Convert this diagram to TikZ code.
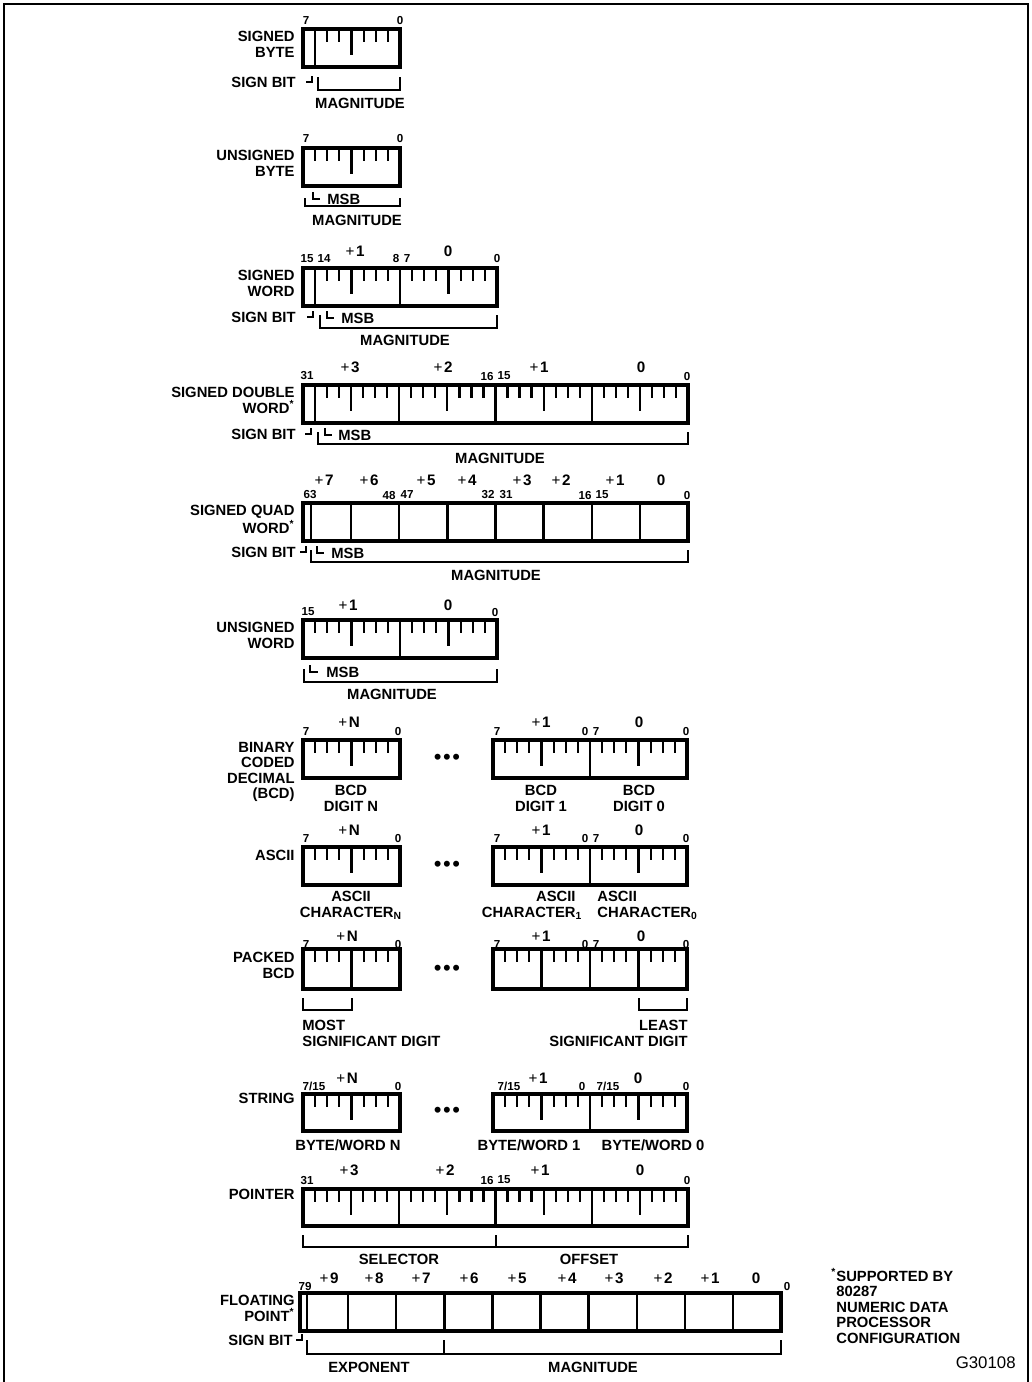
\documentclass[tikz,border=0pt]{standalone}
\usepackage{fontspec}
\setmainfont{Liberation Sans}
\usepackage{tikz}

\tikzset{
  regbox/.style={line width=1.9pt},
  divider/.style={line width=1.2pt},
  bittick/.style={line width=1.1pt},
  brkt/.style={line width=1pt},
  txt/.style={font=\fontsize{7.4}{7.7}\selectfont\bfseries, inner sep=0pt},
  lbl/.style={txt, align=right, anchor=north east},
  bitnum/.style={font=\fontsize{5.8}{6.5}\selectfont\bfseries, inner sep=0pt},
  bytenum/.style={font=\fontsize{7.6}{8}\selectfont\bfseries, inner sep=0pt},
  bullets/.style={font=\fontsize{11}{11}\selectfont, inner sep=0pt},
}

% bit ticks hanging from the top edge: x, top, byte width, bytes
\newcommand{\byteticks}[4]{%
  \foreach \k in {1,...,#4}{%
    \foreach \i in {1,...,7}{%
      \draw[bittick] ({#1+(\k-1)*#3+\i*#3/8},#2) -- ++(0,{\i==4 ? 26 : 13});
    }%
  }%
}
\newcommand{\fn}{\textsuperscript{*}}
\newcommand{\pls}{\textmd{+}\kern0.8pt}

\begin{document}
\begin{tikzpicture}[x=0.5pt,y=-0.5pt]
    \useasboundingbox (0,0) rectangle (1032,1382);
    \draw[line width=1.2pt] (4,1382) -- (4,4) -- (1028,4) -- (1028,1382);

    % signed byte
    \draw[regbox] (303,29) rectangle (400,67);
    \byteticks{303}{29}{97}{1}
    \draw[divider] (315,29) -- (315,67);
    \node[bitnum] (sb7) at (306,21) {7};
    \node[bitnum] (sb0) at (400,21) {0};
    \node[lbl] (sbname) at (295,31) {SIGNED\\BYTE};
    \node[txt, anchor=east] (sbsign) at (296,82) {SIGN BIT};
    \draw[brkt] (306,82) -- (312,82) -- (312,76);
    \draw[brkt] (318,77) -- (318,90) -- (400,90) -- (400,77);
    \node[txt] (sbmag) at (360,103) {MAGNITUDE};

    % unsigned byte
    \draw[regbox] (303,148) rectangle (400,186);
    \byteticks{303}{148}{97}{1}
    \node[bitnum] (ub7) at (306,139) {7};
    \node[bitnum] (ub0) at (400,139) {0};
    \node[lbl] (ubname) at (295,150) {UNSIGNED\\BYTE};
    \draw[brkt] (313,192) -- (313,199) -- (320,199);
    \node[txt, anchor=west] (ubmsb) at (327,199) {MSB};
    \draw[brkt] (305,198) -- (305,206) -- (400,206) -- (400,198);
    \node[txt] (ubmag) at (357,220) {MAGNITUDE};

    % signed word
    \draw[regbox] (303,268) rectangle (497,306);
    \byteticks{303}{268}{97}{2}
    \draw[divider] (315,268) -- (315,306);
    \draw[divider] (400,268) -- (400,306);
    \node[bitnum] (sw15) at (307,259) {15};
    \node[bitnum] (sw14) at (324,259) {14};
    \node[bytenum] (swb1) at (355,251) {\pls1};
    \node[bitnum] (sw8) at (396,259) {8};
    \node[bitnum] (sw7) at (407,259) {7};
    \node[bytenum] (swb0) at (448,251) {0};
    \node[bitnum] (sw0) at (497,259) {0};
    \node[lbl] (swname) at (295,270) {SIGNED\\WORD};
    \node[txt, anchor=east] (swsign) at (296,317) {SIGN BIT};
    \draw[brkt] (307,317) -- (313,317) -- (313,311);
    \draw[brkt] (320,315) -- (320,328) -- (497,328) -- (497,315);
    \draw[brkt] (327,311) -- (327,318) -- (334,318);
    \node[txt, anchor=west] (swmsb) at (341,318) {MSB};
    \node[txt] (swmag) at (405,340) {MAGNITUDE};

    % signed double word
    \draw[regbox] (303,385) rectangle (688,423);
    \byteticks{303}{385}{96.25}{4}
    \draw[divider] (315,385) -- (315,423);
    \draw[divider] (399.25,385) -- (399.25,423);
    \draw[divider] (495.5,385) -- (495.5,423);
    \draw[divider] (591.75,385) -- (591.75,423);
    \node[bitnum] (dw31) at (307,376) {31};
    \node[bytenum] (dwb3) at (350,367) {\pls3};
    \node[bytenum] (dwb2) at (443,367) {\pls2};
    \node[bitnum] (dw16) at (487,376) {16};
    \node[bitnum] (dw15) at (504,376) {15};
    \node[bytenum] (dwb1) at (539,367) {\pls1};
    \node[bytenum] (dwb0) at (641,367) {0};
    \node[bitnum] (dw0) at (687,376) {0};
    \node[lbl] (dwname) at (295,387) {SIGNED DOUBLE\\WORD\fn};
    \node[txt, anchor=east] (dwsign) at (296,434) {SIGN BIT};
    \draw[brkt] (305,434) -- (311,434) -- (311,428);
    \draw[brkt] (318,432) -- (318,444) -- (688,444) -- (688,432);
    \draw[brkt] (325,428) -- (325,435) -- (332,435);
    \node[txt, anchor=west] (dwmsb) at (338,435) {MSB};
    \node[txt] (dwmag) at (500,458) {MAGNITUDE};

    % signed quad word
    \draw[regbox] (303,503) rectangle (688,541);
    \draw[divider] (311,503) -- (311,541);
    \foreach \k in {1,...,7}
        \draw[divider] ({303+\k*48.125},503) -- ({303+\k*48.125},541);
    \node[bytenum] (qwb7) at (324,480) {\pls7};
    \node[bytenum] (qwb6) at (369,480) {\pls6};
    \node[bytenum] (qwb5) at (426,480) {\pls5};
    \node[bytenum] (qwb4) at (467,480) {\pls4};
    \node[bytenum] (qwb3) at (522,480) {\pls3};
    \node[bytenum] (qwb2) at (561,480) {\pls2};
    \node[bytenum] (qwb1) at (615,480) {\pls1};
    \node[bytenum] (qwb0) at (661,480) {0};
    \node[bitnum] (qw63) at (310,495) {63};
    \node[bitnum] (qw48) at (389,495) {48};
    \node[bitnum] (qw47) at (407,495) {47};
    \node[bitnum] (qw32) at (488,495) {32};
    \node[bitnum] (qw31) at (506,495) {31};
    \node[bitnum] (qw16) at (585,495) {16};
    \node[bitnum] (qw15) at (602,495) {15};
    \node[bitnum] (qw0) at (687,495) {0};
    \node[lbl] (qwname) at (295,505) {SIGNED QUAD\\WORD\fn};
    \node[txt, anchor=east] (qwsign) at (296,552) {SIGN BIT};
    \draw[brkt] (300,552) -- (306,552) -- (306,546);
    \draw[brkt] (311,550) -- (311,562) -- (688,562) -- (688,550);
    \draw[brkt] (317,546) -- (317,553) -- (324,553);
    \node[txt, anchor=west] (qwmsb) at (331,553) {MSB};
    \node[txt] (qwmag) at (496,575) {MAGNITUDE};

    % unsigned word
    \draw[regbox] (303,620) rectangle (497,658);
    \byteticks{303}{620}{97}{2}
    \draw[divider] (400,620) -- (400,658);
    \node[bitnum] (uw15) at (308,612) {15};
    \node[bytenum] (uwb1) at (348,605) {\pls1};
    \node[bytenum] (uwb0) at (448,605) {0};
    \node[bitnum] (uw0) at (495,612) {0};
    \node[lbl] (uwname) at (295,622) {UNSIGNED\\WORD};
    \draw[brkt] (310,665) -- (310,672) -- (318,672);
    \node[txt, anchor=west] (uwmsb) at (326,672) {MSB};
    \draw[brkt] (304,669) -- (304,682) -- (497,682) -- (497,669);
    \node[txt] (uwmag) at (392,694) {MAGNITUDE};

    % binary coded decimal
    \draw[regbox] (303,740) rectangle (400,778);
    \byteticks{303}{740}{97}{1}
    \draw[regbox] (493,740) rectangle (687,778);
    \byteticks{493}{740}{97}{2}
    \draw[divider] (590,740) -- (590,778);
    \node[bitnum] (bcd7) at (306,731) {7};
    \node[bytenum] (bcdbn) at (349,722) {\pls N};
    \node[bitnum] (bcd0) at (398,731) {0};
    \node[bitnum] (bcdr7) at (497,731) {7};
    \node[bytenum] (bcdb1) at (541,722) {\pls1};
    \node[bitnum] (bcdm0) at (585,731) {0};
    \node[bitnum] (bcdm7) at (596,731) {7};
    \node[bytenum] (bcdb0) at (639,722) {0};
    \node[bitnum] (bcdr0) at (686,731) {0};
    \node[lbl] (bcdname) at (295,742) {BINARY\\CODED\\DECIMAL\\(BCD)};
    \node[bullets] (bcddots) at (447,759) {•\hspace{0.8pt}•\hspace{0.8pt}•};
    \node[txt, align=center, anchor=north] (bcddn) at (351,785) {BCD\\DIGIT N};
    \node[txt, align=center, anchor=north] (bcdd1) at (541,785) {BCD\\DIGIT 1};
    \node[txt, align=center, anchor=north] (bcdd0) at (639,785) {BCD\\DIGIT 0};

    % ascii
    \draw[regbox] (303,847) rectangle (400,885);
    \byteticks{303}{847}{97}{1}
    \draw[regbox] (493,847) rectangle (687,885);
    \byteticks{493}{847}{97}{2}
    \draw[divider] (590,847) -- (590,885);
    \node[bitnum] (asc7) at (306,838) {7};
    \node[bytenum] (ascbn) at (349,830) {\pls N};
    \node[bitnum] (asc0) at (398,838) {0};
    \node[bitnum] (ascr7) at (497,838) {7};
    \node[bytenum] (ascb1) at (541,830) {\pls1};
    \node[bitnum] (ascm0) at (585,838) {0};
    \node[bitnum] (ascm7) at (596,838) {7};
    \node[bytenum] (ascb0) at (639,830) {0};
    \node[bitnum] (ascr0) at (686,838) {0};
    \node[lbl] (ascname) at (295,850) {ASCII};
    \node[bullets] (ascdots) at (447,866) {•\hspace{0.8pt}•\hspace{0.8pt}•};
    \node[txt, align=center, anchor=north] (asccn) at (351,891) {ASCII\\CHARACTER\textsubscript{N}};
    \node[txt, align=right, anchor=north east] (ascc1) at (576,891) {ASCII\\CHARACTER\rlap{\textsubscript{1}}};
    \node[txt, align=left, anchor=north west] (ascc0) at (597,891) {ASCII\\CHARACTER\textsubscript{0}};

    % packed bcd
    \draw[regbox] (303,949) rectangle (400,989);
    \byteticks{303}{949}{97}{1}
    \draw[divider] (351.5,949) -- (351.5,989);
    \draw[regbox] (493,949) rectangle (687,989);
    \byteticks{493}{949}{97}{2}
    \draw[divider] (541.5,949) -- (541.5,989);
    \draw[divider] (590,949) -- (590,989);
    \draw[divider] (638.5,949) -- (638.5,989);
    \node[bitnum] (pk7) at (306,944) {7};
    \node[bytenum] (pkbn) at (347,936) {\pls N};
    \node[bitnum] (pk0) at (398,944) {0};
    \node[bitnum] (pkr7) at (497,944) {7};
    \node[bytenum] (pkb1) at (541,936) {\pls1};
    \node[bitnum] (pkm0) at (585,944) {0};
    \node[bitnum] (pkm7) at (596,944) {7};
    \node[bytenum] (pkb0) at (641,936) {0};
    \node[bitnum] (pkr0) at (686,944) {0};
    \node[lbl] (pkname) at (295,952) {PACKED\\BCD};
    \node[bullets] (pkdots) at (447,970) {•\hspace{0.8pt}•\hspace{0.8pt}•};
    \draw[brkt] (303,998) -- (303,1010) -- (352,1010) -- (352,998);
    \draw[brkt] (639,998) -- (639,1010) -- (687,1010) -- (687,998);
    \node[txt, align=left, anchor=north west] (pkmost) at (302,1020) {MOST\\SIGNIFICANT DIGIT};
    \node[txt, align=right, anchor=north east] (pkleast) at (688,1020) {LEAST\\SIGNIFICANT DIGIT};

    % string
    \draw[regbox] (303,1094) rectangle (400,1131);
    \byteticks{303}{1094}{97}{1}
    \draw[regbox] (493,1094) rectangle (687,1131);
    \byteticks{493}{1094}{97}{2}
    \draw[divider] (590,1094) -- (590,1131);
    \node[bitnum] (st7) at (314,1086) {7/15};
    \node[bytenum] (stbn) at (347,1078) {\pls N};
    \node[bitnum] (st0) at (398,1086) {0};
    \node[bitnum] (str7) at (509,1086) {7/15};
    \node[bytenum] (stb1) at (538,1078) {\pls1};
    \node[bitnum] (stm0) at (582,1086) {0};
    \node[bitnum] (stm7) at (608,1086) {7/15};
    \node[bytenum] (stb0) at (638,1078) {0};
    \node[bitnum] (str0) at (686,1086) {0};
    \node[lbl] (stname) at (295,1093) {STRING};
    \node[bullets] (stdots) at (447,1112) {•\hspace{0.8pt}•\hspace{0.8pt}•};
    \node[txt] (stwn) at (348,1145) {BYTE/WORD N};
    \node[txt] (stw1) at (529,1145) {BYTE/WORD 1};
    \node[txt] (stw0) at (653,1145) {BYTE/WORD 0};

    % pointer
    \draw[regbox] (303,1189) rectangle (688,1226);
    \byteticks{303}{1189}{96.25}{4}
    \draw[divider] (399.25,1189) -- (399.25,1226);
    \draw[divider] (495.5,1189) -- (495.5,1226);
    \draw[divider] (591.75,1189) -- (591.75,1226);
    \node[bitnum] (pt31) at (307,1180) {31};
    \node[bytenum] (ptb3) at (349,1170) {\pls3};
    \node[bytenum] (ptb2) at (445,1170) {\pls2};
    \node[bitnum] (pt16) at (487,1180) {16};
    \node[bitnum] (pt15) at (504,1180) {15};
    \node[bytenum] (ptb1) at (540,1170) {\pls1};
    \node[bytenum] (ptb0) at (640,1170) {0};
    \node[bitnum] (pt0) at (687,1180) {0};
    \node[lbl] (ptname) at (295,1189) {POINTER};
    \draw[brkt] (303,1235) -- (303,1247) -- (688,1247) -- (688,1235);
    \draw[brkt] (495.5,1235) -- (495.5,1247);
    \node[txt] (ptsel) at (399,1259) {SELECTOR};
    \node[txt] (ptoff) at (589,1259) {OFFSET};

    % floating point
    \draw[regbox] (300,1293) rectangle (781,1331);
    \draw[divider] (307,1293) -- (307,1331);
    \foreach \k in {1,...,9}
        \draw[divider] ({300+\k*48.1},1293) -- ({300+\k*48.1},1331);
    \node[bitnum] (fp79) at (305,1286) {79};
    \node[bytenum] (fpb9) at (329,1278) {\pls9};
    \node[bytenum] (fpb8) at (374,1278) {\pls8};
    \node[bytenum] (fpb7) at (421,1278) {\pls7};
    \node[bytenum] (fpb6) at (469,1278) {\pls6};
    \node[bytenum] (fpb5) at (517,1278) {\pls5};
    \node[bytenum] (fpb4) at (567,1278) {\pls4};
    \node[bytenum] (fpb3) at (614,1278) {\pls3};
    \node[bytenum] (fpb2) at (663,1278) {\pls2};
    \node[bytenum] (fpb1) at (710,1278) {\pls1};
    \node[bytenum] (fpb0) at (756,1278) {0};
    \node[bitnum] (fp0) at (787,1286) {0};
    \node[lbl] (fpname) at (295,1295) {FLOATING\\POINT\fn};
    \node[txt, anchor=east] (fpsign) at (293,1340) {SIGN BIT};
    \draw[brkt] (296,1340) -- (302,1340) -- (302,1334);
    \draw[brkt] (307,1340) -- (307,1354) -- (781,1354) -- (781,1340);
    \draw[brkt] (444.3,1340) -- (444.3,1354);
    \node[txt] (fpexp) at (369,1367) {EXPONENT};
    \node[txt] (fpmag) at (593,1367) {MAGNITUDE};

    % footnote and figure number
    \node[txt, align=left, anchor=north west] (note) at (836,1268)
        {\llap{\textsuperscript{*}}SUPPORTED BY\\80287\\NUMERIC DATA\\PROCESSOR\\CONFIGURATION};
    \node[font=\fontsize{8.4}{9}\selectfont, inner sep=0pt, anchor=east] (fignum) at (1016,1363) {G30108};
\end{tikzpicture}
\end{document}
